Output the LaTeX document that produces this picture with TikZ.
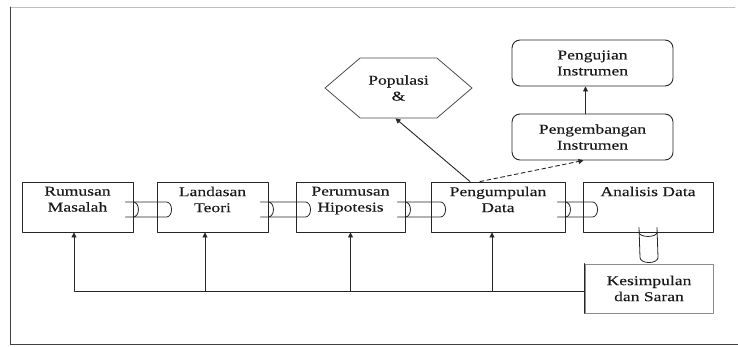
\documentclass[tikz,border=0pt]{standalone}
\usepackage{fontspec}
\newfontfamily\diagfont[FakeStretch=1.3,FakeBold=0.2]{Liberation Serif}
\usepackage{tikz}
\usetikzlibrary{arrows.meta}
\usetikzlibrary{positioning}
\usetikzlibrary{shapes.symbols}
\usetikzlibrary{calc}

\tikzset{
  stage/.style={draw=black!85,line width=0.9pt,minimum height=50pt,inner sep=0pt},
  stagetext/.style={align=center,inner sep=0pt,text=black!90,font=\diagfont\fontsize{13.5}{16}\selectfont},
  instr/.style={draw=black!85,line width=0.9pt,rounded corners=8pt,minimum width=161pt,minimum height=46pt,
    align=center,inner sep=0pt,text=black!90,font=\diagfont\fontsize{13.5}{16}\selectfont},
  pipeline/.style={draw=black!85,line width=0.8pt},
  flow/.style={draw=black!85,line width=0.9pt,-{Triangle[length=5pt,width=5pt]}}
}

% horizontal pipe between two stages
\newcommand{\hpipe}[2]{%
  \draw[pipeline] ([shift={(-8,-5)}]#1.east) -- ([shift={(10,-5)}]#2.west)
    arc[start angle=90,end angle=-90,x radius=5pt,y radius=7.5pt] -- ([shift={(-8,10)}]#1.east);
  \draw[pipeline] ([shift={(0,-5)}]#1.east) arc[start angle=90,end angle=-90,x radius=5pt,y radius=7.5pt];}

\begin{document}
\begin{tikzpicture}[x=1pt,y=-1pt,line cap=round,line join=round]
\useasboundingbox (0,0) rectangle (738,346);
% frame
\draw[black!25,line width=0.8pt] (10,7) -- (735,7);
\draw[black!75,line width=1pt] (10,7) -- (10,344) -- (738,344);

% main row
\node[stage,minimum width=111pt] (rumusan) at (77.5,207) {};
\node[stage,minimum width=111pt] (landasan) at (212.5,207) {};
\node[stage,minimum width=109pt] (perumusan) at (350.5,207) {};
\node[stage,minimum width=134pt] (pengumpulan) at (498,207) {};
\node[stage,minimum width=130pt] (analisis) at (648,207) {};
\node[stagetext,below=5pt of rumusan.north] (rumusant) {Rumusan\\Masalah};
\node[stagetext,below=5pt of landasan.north] (landasant) {Landasan\\Teori};
\node[stagetext,below=5pt of perumusan.north] (perumusant) {Perumusan\\Hipotesis};
\node[stagetext,below=5pt of pengumpulan.north] (pengumpulant) {Pengumpulan\\Data};
\node[stagetext,below=5pt of analisis.north] (analisist) {Analisis Data};

\node[stage,draw=black!45,minimum width=128pt,minimum height=49pt,align=center,
  text=black!90,font=\diagfont\fontsize{13.5}{16}\selectfont] (kesimpulan) at (649,288.5) {Kesimpulan\\dan Saran};
\draw[black!85,line width=0.9pt] (kesimpulan.north west) -- (kesimpulan.south west);

% upper part
\node[draw=black!70,line width=0.8pt,signal,signal to=west and east,signal pointer angle=81,
  minimum width=147pt,minimum height=60pt,inner sep=0pt,align=center,text=black!90,
  font=\diagfont\fontsize{13.5}{16}\selectfont] (populasi) at (398.5,88) {Populasi\\\&};
\node[instr] (pengembangan) at (592.5,137) {Pengembangan\\Instrumen};
\node[instr] (pengujian) at (592.5,63) {Pengujian\\Instrumen};

% pipes
\hpipe{rumusan}{landasan}
\hpipe{landasan}{perumusan}
\hpipe{perumusan}{pengumpulan}
\hpipe{pengumpulan}{analisis}
\draw[pipeline] ([shift={(-9,-5)}]analisis.south) -- ([shift={(-9,-6)}]kesimpulan.north)
  arc[start angle=180,end angle=360,x radius=9pt,y radius=5pt] -- ([shift={(9,-5)}]analisis.south);
\draw[pipeline] ([xshift=-9pt]analisis.south) arc[start angle=180,end angle=360,x radius=9pt,y radius=4pt];

% arrows
\draw[flow] ([xshift=-28pt]pengumpulan.north) -- ([xshift=-3pt]populasi.south);
\draw[flow,dash pattern=on 4pt off 3pt] ([xshift=-18pt]pengumpulan.north) -- ([xshift=-9pt]pengembangan.south);
\draw[flow] ([xshift=-7pt]pengembangan.north) -- ([xshift=-7pt]pengujian.south);

% feedback
\draw[flow] ([yshift=-3pt]kesimpulan.west) -| ([xshift=-3.5pt]rumusan.south);
\draw[flow] ([xshift=-7.5pt,yshift=-3pt]landasan.south |- kesimpulan.west) -- ([xshift=-7.5pt]landasan.south);
\draw[flow] ([yshift=-3pt]perumusan.south |- kesimpulan.west) -- (perumusan.south);
\draw[flow] ([xshift=-6pt,yshift=-3pt]pengumpulan.south |- kesimpulan.west) -- ([xshift=-6pt]pengumpulan.south);
\end{tikzpicture}
\end{document}
